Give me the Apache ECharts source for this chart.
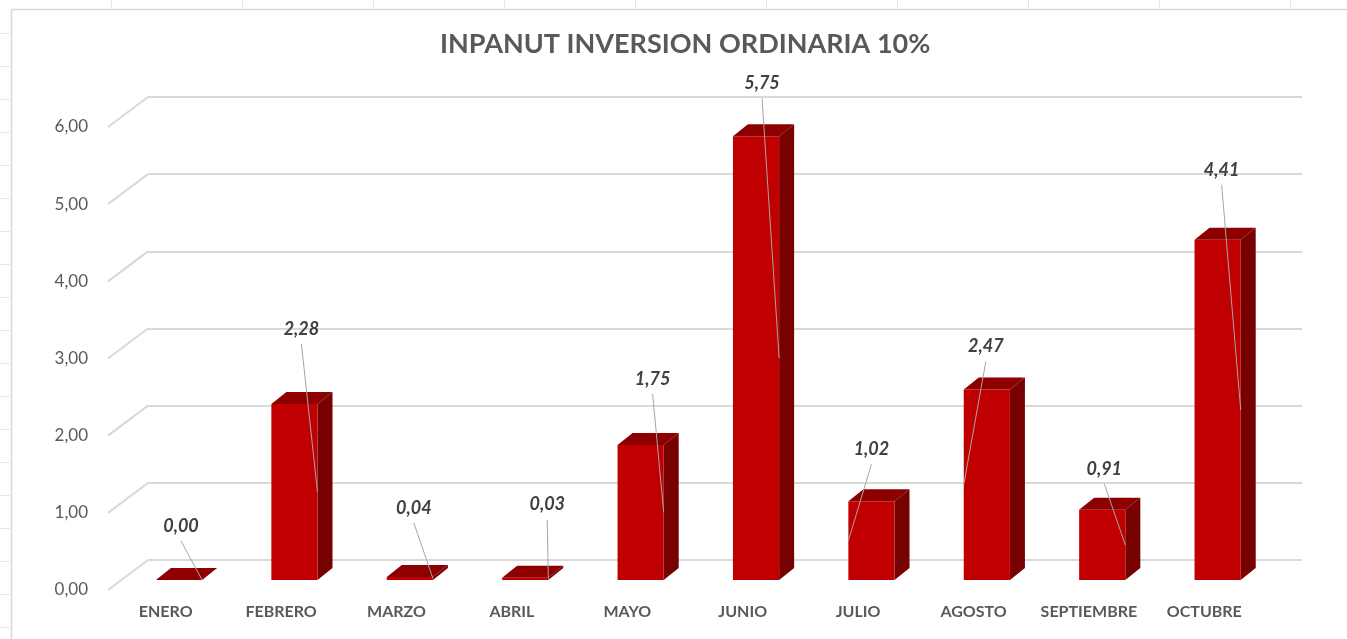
<!DOCTYPE html>
<html>
<head>
<meta charset="utf-8">
<script src="https://cdn.jsdelivr.net/npm/echarts@6/dist/echarts.min.js"></script>
<style>
  html, body { margin: 0; padding: 0; background: #fff; }
  #myChart { width: 1347px; height: 639px; }
</style>
</head>
<body>
<div id="myChart"></div>
<script>
// datos del grafico
var meses = ['ENERO', 'FEBRERO', 'MARZO', 'ABRIL', 'MAYO', 'JUNIO', 'JULIO', 'AGOSTO', 'SEPTIEMBRE', 'OCTUBRE'];
var valores = [0.00, 2.28, 0.04, 0.03, 1.75, 5.75, 1.02, 2.47, 0.91, 4.41];
var ejeMin = 0, ejeMax = 6, ejeIntervalo = 1;

// posicion manual de cada etiqueta: [dx, px por encima de la barra] (como las movieron en excel)
var etiquetaPos = [[2, 54], [7, 75], [4, 69], [22, 73], [12, 66], [6, 53], [0, 52], [-1, 43], [2, 41], [4, 70]];

var fuente = 'Lato';
var frente = { left: 108, top: 127, width: 1154, height: 463 }; // borde delantero del suelo
var fondoX = 40, fondoY = -30;   // profundidad hasta la pared del fondo
var barraX = 15, barraY = -12;   // profundidad de cada barra
var rojo = '#C00000', rojoLado = '#770000', rojoArriba = '#8E0000';
var gris = '#595959';

function fmt(v) {
  return Number(v).toFixed(2).replace('.', ',');
}

// k = 0 frente, 1 fondo
function grid(k) {
  return {
    left: frente.left + fondoX * k,
    top: frente.top + fondoY * k,
    width: frente.width,
    height: frente.height
  };
}

var ticks = [];
for (var t = ejeMin; t <= ejeMax; t += ejeIntervalo) ticks.push([0, t]);

var marco = [
  { type: 'line', shape: { x1: 11.5, y1: 9, x2: 11.5, y2: 639 }, style: { stroke: '#D9D9D9', lineWidth: 1.5 } },
  { type: 'line', shape: { x1: 11, y1: 9.5, x2: 1347, y2: 9.5 }, style: { stroke: '#D9D9D9', lineWidth: 1.5 } }
];
for (var r = 33; r < 639; r += 33) {
  marco.push({ type: 'line', shape: { x1: 0, y1: r + 0.5, x2: 10, y2: r + 0.5 }, style: { stroke: '#E6E6E6', lineWidth: 1 } });
}
for (var c = 111; c < 1347; c += 131) {
  marco.push({ type: 'line', shape: { x1: c + 0.5, y1: 0, x2: c + 0.5, y2: 8 }, style: { stroke: '#E6E6E6', lineWidth: 1 } });
}

var chart = echarts.init(document.getElementById('myChart'));

var options = {
  backgroundColor: '#fff',
  animation: false,
  title: {
    text: 'INPANUT INVERSION ORDINARIA 10%',
    left: 440,
    top: 31,
    padding: 0,
    textStyle: { fontFamily: fuente, fontSize: 27, fontWeight: 'bold', color: gris }
  },
  graphic: marco,
  grid: [grid(0), grid(1 / 3), grid(1)],
  xAxis: [
    {
      gridIndex: 0, type: 'category', data: meses,
      axisLine: { show: false }, axisTick: { show: false },
      axisLabel: { interval: 0, color: gris, fontFamily: fuente, fontWeight: 'bold', fontSize: 16, margin: 14 }
    },
    { gridIndex: 1, type: 'category', data: meses, show: false },
    { gridIndex: 2, type: 'category', data: meses, show: false }
  ],
  yAxis: [
    {
      gridIndex: 0, type: 'value', min: ejeMin, max: ejeMax, interval: ejeIntervalo,
      axisLine: { show: false }, axisTick: { show: false }, splitLine: { show: false },
      axisLabel: { formatter: fmt, color: gris, fontFamily: fuente, fontSize: 17, margin: 20 }
    },
    { gridIndex: 1, type: 'value', min: ejeMin, max: ejeMax, interval: ejeIntervalo, show: false },
    {
      gridIndex: 2, type: 'value', min: ejeMin, max: ejeMax, interval: ejeIntervalo,
      axisLine: { show: false }, axisTick: { show: false }, axisLabel: { show: false },
      splitLine: { show: true, lineStyle: { color: '#D9D9D9', width: 2 } }
    }
  ],
  series: [
    {
      // diagonales del suelo hacia la pared del fondo
      type: 'custom',
      xAxisIndex: 0, yAxisIndex: 0,
      clip: false,
      silent: true,
      data: ticks,
      renderItem: function (params, api) {
        var p = api.coord([0, api.value(1)]);
        var x0 = p[0] - api.size([1, 0])[0] / 2;
        return {
          type: 'line',
          shape: { x1: x0, y1: p[1], x2: x0 + fondoX, y2: p[1] + fondoY },
          style: { stroke: '#D9D9D9', lineWidth: 2 }
        };
      }
    },
    {
      // barras 3d con etiqueta y linea guia
      name: 'INPANUT',
      type: 'custom',
      xAxisIndex: 1, yAxisIndex: 1,
      clip: false,
      data: valores.map(function (v, i) { return [i, v]; }),
      renderItem: function (params, api) {
        var i = api.value(0), v = api.value(1);
        var arriba = api.coord([i, v]);
        var base = api.coord([i, 0]);
        var bw = api.size([1, 0])[0] * 0.4;
        var xl = arriba[0] - bw / 2, xr = arriba[0] + bw / 2;
        var yt = arriba[1], yb = base[1];
        var pos = etiquetaPos[i];
        var lx = arriba[0] + pos[0], ly = yt - pos[1];
        var borde = pos[0] > 1 ? xr : xl;
        return {
          type: 'group',
          children: [
            {
              type: 'polygon',
              shape: { points: [[xr, yt], [xr + barraX, yt + barraY], [xr + barraX, yb + barraY], [xr, yb]] },
              style: { fill: rojoLado }
            },
            {
              type: 'polygon',
              shape: { points: [[xl, yt], [xl + barraX, yt + barraY], [xr + barraX, yt + barraY], [xr, yt]] },
              style: { fill: rojoArriba }
            },
            {
              type: 'rect',
              shape: { x: xl, y: yt, width: bw, height: yb - yt },
              style: { fill: rojo }
            },
            {
              type: 'line',
              shape: { x1: lx, y1: ly + 15, x2: borde, y2: (yt + yb) / 2 },
              style: { stroke: '#A6A6A6', lineWidth: 1 }
            },
            {
              type: 'text',
              x: lx, y: ly,
              style: {
                text: fmt(v),
                align: 'center', verticalAlign: 'middle',
                fontFamily: fuente, fontSize: 18, fontWeight: 'bold', fontStyle: 'italic',
                fill: '#404040'
              }
            }
          ]
        };
      }
    }
  ]
};

chart.setOption(options);
</script>
</body>
</html>
